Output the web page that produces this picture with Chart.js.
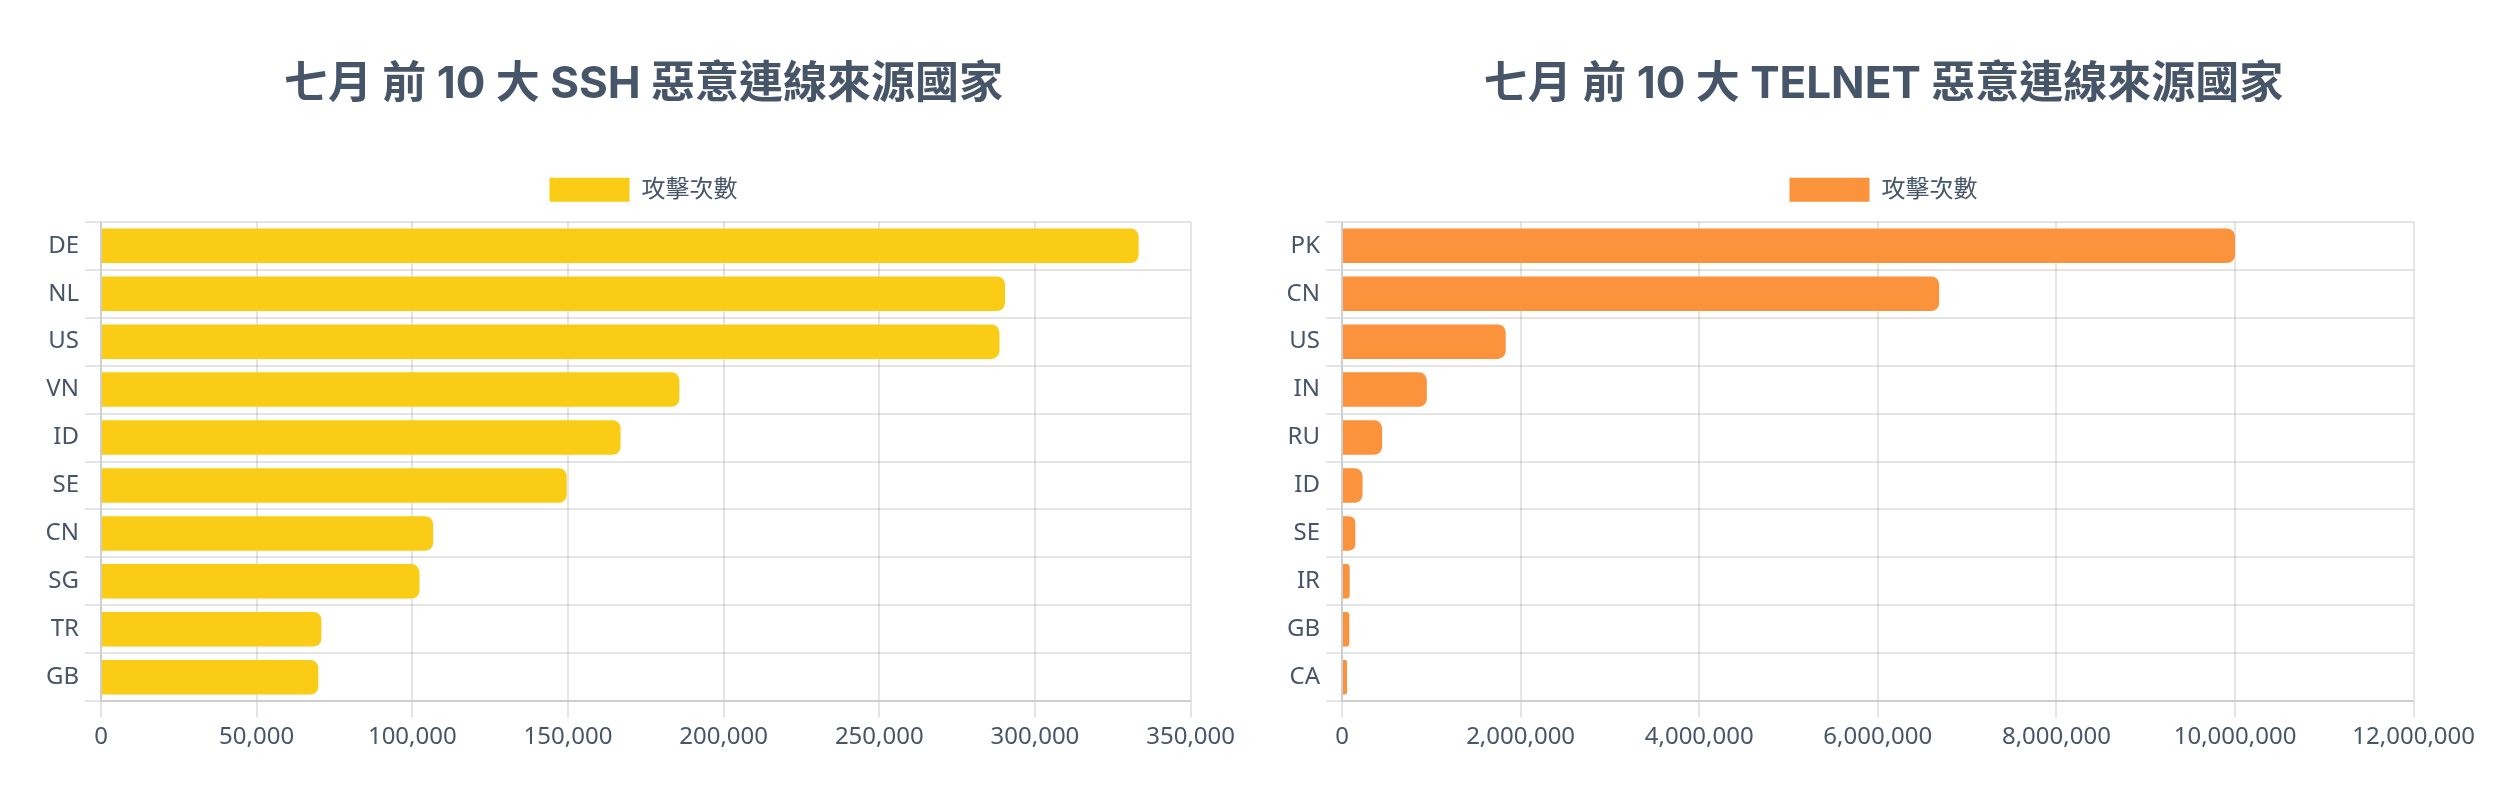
<!DOCTYPE html>
<html>
<head>
<meta charset="utf-8">
<script src="https://cdn.jsdelivr.net/npm/chart.js@4.4.1/dist/chart.umd.min.js"></script>
<style>
  html, body { margin: 0; padding: 0; background: #ffffff; }
  body { width: 2520px; height: 800px; position: relative; overflow: hidden; }
  .box { position: absolute; top: 40px; width: 1195px; height: 718px; }
  #boxL { left: 46px; }
  #boxR { left: 1286px; }
</style>
</head>
<body>
<div class="box" id="boxL"><canvas id="sshChart"></canvas></div>
<div class="box" id="boxR"><canvas id="telnetChart"></canvas></div>
<script>
// ---- data ----
const sshTitle = '七月 前 10 大 SSH 惡意連線來源國家';
const telnetTitle = '七月 前 10 大 TELNET 惡意連線來源國家';
const seriesLabel = '攻擊次數';

const sshCountries = ['DE', 'NL', 'US', 'VN', 'ID', 'SE', 'CN', 'SG', 'TR', 'GB'];
const sshCounts = [333300, 290400, 288600, 185800, 166900, 149600, 106700, 102300, 70800, 69800];

const telnetCountries = ['PK', 'CN', 'US', 'IN', 'RU', 'ID', 'SE', 'IR', 'GB', 'CA'];
const telnetCounts = [10000000, 6687000, 1833000, 950000, 449000, 230000, 149000, 86000, 82000, 56000];

const sshAxisMax = 350000, sshAxisStep = 50000;
const telnetAxisMax = 12000000, telnetAxisStep = 2000000;

// ---- styling ----
const TITLE_FONT = "Inter, 'Noto Sans CJK TC', 'Noto Sans', sans-serif";
const FONT = "'Noto Sans', 'Noto Sans CJK TC', sans-serif";
const TEXT = '#475569';
const GRID = 'rgba(0,0,0,0.1)';

// extra space below the legend
const legendGap = {
  id: 'legendGap',
  beforeInit(chart) {
    const origFit = chart.legend.fit;
    chart.legend.fit = function () {
      origFit.bind(chart.legend)();
      this.height += 10;
    };
  }
};

function makeChart(id, title, labels, values, color, axisMax, axisStep, yWidth) {
  return new Chart(document.getElementById(id), {
    type: 'bar',
    data: {
      labels: labels,
      datasets: [{
        label: seriesLabel,
        data: values,
        backgroundColor: color,
        borderColor: color,
        borderWidth: 0,
        borderRadius: 8,
        borderSkipped: 'start'
      }]
    },
    plugins: [legendGap],
    options: {
      indexAxis: 'y',
      responsive: true,
      maintainAspectRatio: false,
      devicePixelRatio: 1,
      animation: false,
      locale: 'en-US',
      layout: { padding: 0 },
      plugins: {
        title: {
          display: true,
          text: title,
          color: TEXT,
          font: { family: TITLE_FONT, size: 44, weight: 'bold' },
          padding: { top: 18, bottom: 47 }
        },
        legend: {
          display: true,
          position: 'top',
          labels: {
            color: TEXT,
            font: { family: FONT, size: 24 },
            boxWidth: 80,
            boxHeight: 24,
            padding: 20
          }
        },
        tooltip: { enabled: false }
      },
      scales: {
        x: {
          beginAtZero: true,
          max: axisMax,
          ticks: {
            stepSize: axisStep,
            color: TEXT,
            font: { family: FONT, size: 24 },
            padding: 6
          },
          grid: { color: GRID, lineWidth: 2, tickLength: 16 },
          border: { color: GRID, width: 2 }
        },
        y: {
          afterFit: function (axis) { axis.width = yWidth; },
          ticks: {
            color: TEXT,
            font: { family: FONT, size: 24 },
            padding: 6
          },
          grid: { color: GRID, lineWidth: 2, tickLength: 16 },
          border: { color: GRID, width: 2 }
        }
      }
    }
  });
}

makeChart('sshChart', sshTitle, sshCountries, sshCounts, '#FACC15', sshAxisMax, sshAxisStep, 55);
makeChart('telnetChart', telnetTitle, telnetCountries, telnetCounts, '#FB923C', telnetAxisMax, telnetAxisStep, 56);
</script>
</body>
</html>
